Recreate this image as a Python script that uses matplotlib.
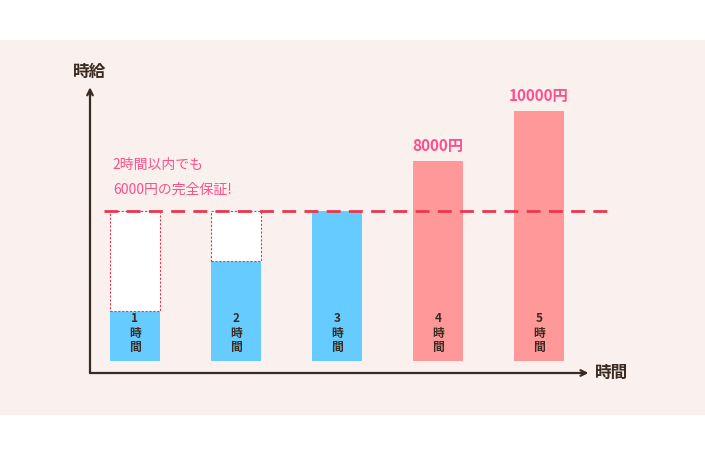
import matplotlib
matplotlib.use("Agg")
import matplotlib.pyplot as plt
from matplotlib.patches import Rectangle

plt.rcParams['font.family'] = ['Noto Sans CJK JP', 'DejaVu Sans']

hours = [1, 2, 3, 4, 5]
wages = [2000, 4000, 6000, 8000, 10000]
guarantee = 6000
bar_colors = ['#66CCFF', '#66CCFF', '#66CCFF', '#FF9999', '#FF9999']
value_labels = ['', '', '', '8000円', '10000円']
bar_texts = ['1\n時\n間', '2\n時\n間', '3\n時\n間', '4\n時\n間', '5\n時\n間']

dark = '#3B2A20'
pink_text = '#FF4F8B'
red = '#E8384F'

fig = plt.figure(figsize=(7.05, 4.67), dpi=100)
ax = fig.add_axes([0, 0, 1, 1])
ax.set_xlim(-0.3366, 6.6436)
ax.set_ylim(-4240, 14440)
ax.axis('off')

ax.add_patch(Rectangle((0, 0.111), 1, 0.803, transform=ax.transAxes,
                       facecolor='#FAF0EE', edgecolor='none', zorder=0))

w = 0.5
for h, v, c, t in zip(hours, wages, bar_colors, bar_texts):
    ax.bar(h, v, width=w, color=c, zorder=2)
    if v < guarantee:
        ax.bar(h, guarantee - v, bottom=v, width=w, facecolor='white',
               edgecolor=red, linestyle=(0, (2, 1.5)), linewidth=0.8, zorder=2)
    ax.text(h, 1950, t, ha='center', va='top', fontsize=8.5, color=dark,
            linespacing=1.15, zorder=3, fontweight='bold')

for h, v, lab in zip(hours, wages, value_labels):
    if lab:
        ax.text(h, v + 300, lab, ha='center', va='bottom', fontsize=11,
                color=pink_text, fontweight='bold', zorder=3)

ax.plot([0.69, 5.73], [guarantee, guarantee], color=red, linewidth=2,
        linestyle=(0, (5, 3)), zorder=4)

ax.text(0.78, 7850, '2時間以内でも', fontsize=10, color=pink_text, va='center', ha='left')
ax.text(0.78, 6850, '6000円の完全保証!', fontsize=10, color=pink_text, va='center', ha='left')

# axes with arrows
ax.annotate('', xy=(0.5545, 10950), xytext=(0.5545, -480),
            arrowprops=dict(arrowstyle='->', color=dark, lw=1.6, shrinkA=0, shrinkB=0))
ax.annotate('', xy=(5.49, -480), xytext=(0.5545, -480),
            arrowprops=dict(arrowstyle='->', color=dark, lw=1.6, shrinkA=0, shrinkB=0))
ax.text(0.55, 11550, '時給', fontsize=12, color=dark, ha='center', va='center', fontweight='bold')
ax.text(5.72, -480, '時間', fontsize=12, color=dark, ha='center', va='center', fontweight='bold')

fig.savefig('out.png', dpi=100)
